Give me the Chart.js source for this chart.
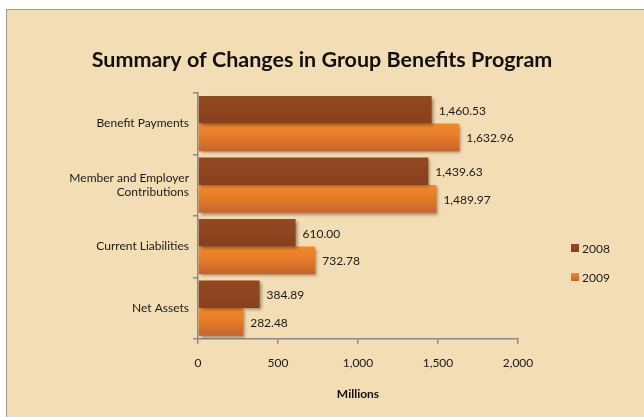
<!DOCTYPE html>
<html>
<head>
<meta charset="utf-8">
<script src="https://cdn.jsdelivr.net/npm/chart.js@4.4.0/dist/chart.umd.min.js"></script>
<style>
  html, body { margin: 0; padding: 0; background: #ffffff; }
  #frame { position: absolute; left: 6px; top: 9px; width: 660px; height: 430px;
           background: #F3DDB5; border: 1px solid #9a9a9a; box-sizing: border-box; }
  #wrap { position: absolute; left: 0; top: 0; width: 644px; height: 417px; }
</style>
</head>
<body>
<div id="frame"></div>
<div id="wrap"><canvas id="c" width="644" height="417"></canvas></div>
<script>
const titleText = 'Summary of Changes in Group Benefits Program';
const categories = [
  'Benefit Payments',
  ['Member and Employer', 'Contributions'],
  'Current Liabilities',
  'Net Assets'
];
const seriesNames = ['2008', '2009'];
const values2008 = [1460.53, 1439.63, 610.00, 384.89];
const values2009 = [1632.96, 1489.97, 732.78, 282.48];
const xTicks = [0, 500, 1000, 1500, 2000];
const xTitle = 'Millions';

const FONT = 'Lato, "Noto Sans", sans-serif';
const CAT_PCT = 0.9;

function barGradient(ctx, dsIndex, top, bottom) {
  const chart = ctx.chart;
  const g = chart.ctx.createLinearGradient(0, top, 0, bottom);
  if (dsIndex === 0) {
    g.addColorStop(0, '#944821');
    g.addColorStop(1, '#87401d');
  } else {
    g.addColorStop(0, '#F2892A');
    g.addColorStop(0.5, '#E57A27');
    g.addColorStop(1, '#C4652D');
  }
  return g;
}

function scriptColor(dsIndex) {
  return function (ctx) {
    const chart = ctx.chart;
    const y = chart.scales && chart.scales.y;
    if (!y || ctx.dataIndex === undefined || !isFinite(y.getPixelForValue(0))) {
      return dsIndex === 0 ? '#904520' : '#EC7F28';
    }
    const center = y.getPixelForValue(ctx.dataIndex);
    const band = y.height / categories.length;
    const half = band * CAT_PCT / 2;
    const top = dsIndex === 0 ? center - half : center;
    const bottom = dsIndex === 0 ? center : center + half;
    return barGradient(ctx, dsIndex, top, bottom);
  };
}

const centerTitle = {
  id: 'centerTitle',
  afterLayout(chart) {
    const t = chart.titleBlock;
    if (t) { t.left = 0; t.right = chart.width; t.width = chart.width; }
  }
};

const shadowPlugin = {
  id: 'barShadow',
  beforeDatasetsDraw(chart) {
    const c = chart.ctx;
    c.save();
    c.shadowColor = 'rgba(60,30,10,0.45)';
    c.shadowOffsetX = 2;
    c.shadowOffsetY = 2;
    c.shadowBlur = 3;
  },
  afterDatasetsDraw(chart) {
    chart.ctx.restore();
  }
};

const valueLabels = {
  id: 'valueLabels',
  afterDatasetsDraw(chart) {
    const c = chart.ctx;
    c.save();
    c.font = '12px ' + FONT;
    c.fillStyle = '#1a1a1a';
    c.textAlign = 'left';
    c.textBaseline = 'middle';
    chart.data.datasets.forEach((ds, di) => {
      const meta = chart.getDatasetMeta(di);
      meta.data.forEach((bar, i) => {
        const v = ds.data[i];
        const s = v.toLocaleString('en-US', { minimumFractionDigits: 2, maximumFractionDigits: 2 });
        c.fillText(s, bar.x + 7, bar.y + 1);
      });
    });
    c.restore();
  }
};

const customLegend = {
  id: 'customLegend',
  afterDraw(chart) {
    const c = chart.ctx;
    c.save();
    c.font = '12px ' + FONT;
    c.textAlign = 'left';
    c.textBaseline = 'middle';
    const ys = [248, 277];
    chart.data.datasets.forEach((ds, di) => {
      const y = ys[di];
      const g = c.createLinearGradient(0, y - 4, 0, y + 4);
      if (di === 0) { g.addColorStop(0, '#944821'); g.addColorStop(1, '#87401d'); }
      else { g.addColorStop(0, '#F2892A'); g.addColorStop(1, '#C4652D'); }
      c.fillStyle = g;
      c.fillRect(571, y - 4, 8, 8);
      c.fillStyle = '#1a1a1a';
      c.fillText(ds.label, 582, y + 1);
    });
    c.restore();
  }
};

new Chart(document.getElementById('c'), {
  type: 'bar',
  data: {
    labels: categories,
    datasets: [
      { label: seriesNames[0], data: values2008, backgroundColor: scriptColor(0),
        barPercentage: 1.0, categoryPercentage: CAT_PCT },
      { label: seriesNames[1], data: values2009, backgroundColor: scriptColor(1),
        barPercentage: 1.0, categoryPercentage: CAT_PCT }
    ]
  },
  options: {
    indexAxis: 'y',
    responsive: false,
    animation: false,
    devicePixelRatio: 1,
    layout: { padding: { left: 10, right: 126, top: 0, bottom: 16 } },
    plugins: {
      legend: { display: false },
      tooltip: { enabled: false },
      title: {
        display: true,
        text: titleText,
        color: '#111',
        font: { family: FONT, size: 21.5, weight: 'bold' },
        padding: { top: 47, bottom: 20 }
      }
    },
    scales: {
      x: {
        min: 0, max: 2000,
        afterBuildTicks(scale) { scale.ticks = xTicks.map(v => ({ value: v })); },
        ticks: {
          color: '#1a1a1a',
          font: { family: FONT, size: 12 },
          padding: 12,
          callback: (v) => Number(v).toLocaleString('en-US')
        },
        grid: { drawOnChartArea: false, tickLength: 5, color: '#8a8a8a', lineWidth: 1.5 },
        border: { color: '#8a8a8a', width: 1.5 },
        title: {
          display: true, text: xTitle, color: '#111',
          font: { family: FONT, size: 12, weight: 'bold' },
          padding: { top: 4.4, bottom: 0 }
        }
      },
      y: {
        afterFit(scale) { scale.width = 188; },
        ticks: {
          color: '#1a1a1a',
          font: { family: FONT, size: 12 },
          padding: 4
        },
        grid: { drawOnChartArea: false, tickLength: 5, offset: true, color: '#8a8a8a', lineWidth: 1.5 },
        border: { color: '#8a8a8a', width: 1.5 }
      }
    }
  },
  plugins: [centerTitle, shadowPlugin, valueLabels, customLegend]
});
</script>
</body>
</html>
